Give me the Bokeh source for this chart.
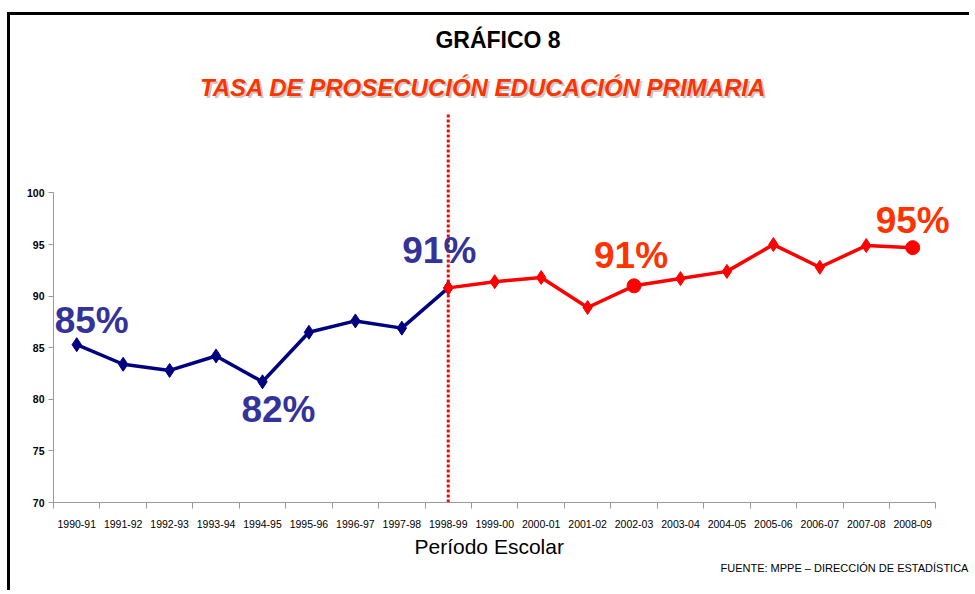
from bokeh.plotting import figure
from bokeh.models import (Range1d, LinearAxis, FixedTicker, Label, Title, ColumnDataSource)
from bokeh.core.properties import value
from bokeh.embed import file_html
from bokeh.resources import INLINE

# ---------------- data ----------------
periods = ["1990-91", "1991-92", "1992-93", "1993-94", "1994-95", "1995-96", "1996-97",
           "1997-98", "1998-99", "1999-00", "2000-01", "2001-02", "2002-03", "2003-04",
           "2004-05", "2005-06", "2006-07", "2007-08", "2008-09"]
blue_periods = periods[:9]
blue_values = [85.3, 83.4, 82.8, 84.2, 81.7, 86.5, 87.6, 86.9, 90.8]
red_periods = periods[8:]
red_values = [90.8, 91.4, 91.8, 88.9, 91.0, 91.7, 92.4, 95.0, 92.8, 94.9, 94.7]
circle_periods = ["2002-03", "2008-09"]
divider_period = "1998-99"
label_periods = ["1990-91", "1994-95", "1998-99", "2002-03", "2008-09"]
y_ticks = [70, 75, 80, 85, 90, 95, 100]

title_text = "GRÁFICO 8"
subtitle_text = "TASA DE PROSECUCIÓN EDUCACIÓN PRIMARIA"
x_label = "Período Escolar"
source_text = "FUENTE: MPPE – DIRECCIÓN DE ESTADÍSTICA"

# ---------------- styles ----------------
NAVY = "#000080"
RED = "#FF0000"
LBL_BLUE = "#333399"
LBL_RED = "#FF3300"
AXIS_GRAY = "#999999"
FONT = "Liberation Sans"

# category centre positions on the category axis (category i occupies [i, i+1])
pos = {k: i + 0.5 for i, k in enumerate(periods)}
all_vals = dict(zip(blue_periods, blue_values))
all_vals.update(dict(zip(red_periods, red_values)))

p = figure(width=962, height=578,
           x_range=Range1d(0, len(periods) + 0.4),
           y_range=Range1d(70, 117.2),
           x_axis_location=None,
           output_backend="svg", toolbar_location=None,
           min_border_left=43, min_border_right=18, min_border_top=0, min_border_bottom=91)
p.styles = {"border-top": "3px solid #000000", "border-left": "3px solid #000000",
            "margin-top": "12px", "margin-left": "7px"}
p.outline_line_color = None
p.xgrid.grid_line_color = None
p.ygrid.grid_line_color = None
p.background_fill_color = "white"
p.border_fill_color = "white"

# y axis
ya = p.yaxis[0]
ya.bounds = (70, 100)
ya.ticker = FixedTicker(ticks=y_ticks)
ya.axis_line_color = AXIS_GRAY
ya.major_tick_line_color = AXIS_GRAY
ya.major_tick_in = 0
ya.major_tick_out = 5
ya.minor_tick_line_color = None
ya.major_label_text_font = FONT
ya.major_label_text_font_style = "bold"
ya.major_label_text_font_size = "10.5px"
ya.major_label_text_color = "#000000"
ya.major_label_standoff = 4

# x axis: labels at category centres, tick marks at category boundaries
xa = LinearAxis(ticker=FixedTicker(ticks=[pos[k] for k in periods],
                                   minor_ticks=list(range(len(periods) + 1))),
                bounds=(0, len(periods)),
                major_label_overrides={pos[k]: k for k in periods},
                axis_line_color=AXIS_GRAY,
                major_tick_line_color=None, major_tick_in=0, major_tick_out=0,
                minor_tick_line_color=AXIS_GRAY, minor_tick_in=0, minor_tick_out=6,
                major_label_text_font=FONT, major_label_text_font_size="10.5px",
                major_label_text_color="#000000", major_label_standoff=11)
p.add_layout(xa, "below")
p.add_layout(Title(text=x_label, align="left", offset=361, standoff=5,
                   text_font=FONT, text_font_style="normal", text_font_size="21px",
                   text_color="#000000"), "below")
p.add_layout(Title(text=source_text, align="left", offset=667, standoff=-2,
                   text_font=FONT, text_font_style="normal", text_font_size="11px",
                   text_color="#000000"), "below")

# divider (dotted)
p.segment(x0=[pos[divider_period]], y0=[70], x1=[pos[divider_period]], y1=[107.7],
          line_color=RED, line_width=3, line_dash="3 2")

# lines and markers
p.line([pos[k] for k in blue_periods], blue_values, line_color=NAVY, line_width=3.5)
p.scatter([pos[k] for k in blue_periods], blue_values, marker="diamond", size=14,
          fill_color=NAVY, line_color=NAVY)
p.line([pos[k] for k in red_periods], red_values, line_color=RED, line_width=3.5)
dia_red = [k for k in red_periods if k not in circle_periods]
p.scatter([pos[k] for k in dia_red], [all_vals[k] for k in dia_red], marker="diamond",
          size=14, fill_color=RED, line_color=RED)
p.scatter([pos[k] for k in circle_periods], [all_vals[k] for k in circle_periods],
          marker="circle", size=14, fill_color=RED, line_color=RED)

# data labels
lbl_colors = [LBL_BLUE, LBL_BLUE, LBL_BLUE, LBL_RED, LBL_RED]
lbl_dx = [15, 16, -9, -3, 0]
lbl_dy = [-24, 28, -37, -30, -27]
lbl_src = ColumnDataSource(dict(
    x=[pos[k] for k in label_periods],
    y=[all_vals[k] for k in label_periods],
    text=[f"{round(all_vals[k])}%" for k in label_periods],
    color=lbl_colors, dx=lbl_dx, dy=lbl_dy))
p.text(x="x", y="y", text="text", source=lbl_src, text_color="color",
       x_offset="dx", y_offset="dy", text_align="center", text_baseline="middle",
       text_font=value(FONT), text_font_style="bold", text_font_size=value("37px"))

# titles (inside the plotting frame, screen units from frame bottom-left)
p.add_layout(Label(x=444.5, y=463, x_units="screen", y_units="screen", text=title_text,
                   text_align="center", text_baseline="middle", text_font=FONT,
                   text_font_style="bold", text_font_size="23px", text_color="#000000"))
p.add_layout(Label(x=431.5, y=413, x_units="screen", y_units="screen", text=subtitle_text,
                   text_align="center", text_baseline="middle", text_font=FONT,
                   text_font_style="bold italic", text_font_size="24px",
                   text_color="#888888", text_alpha=0.45))
p.add_layout(Label(x=429.5, y=415, x_units="screen", y_units="screen", text=subtitle_text,
                   text_align="center", text_baseline="middle", text_font=FONT,
                   text_font_style="bold italic", text_font_size="24px",
                   text_color=LBL_RED))

open("out.html", "w").write(file_html(p, INLINE))
